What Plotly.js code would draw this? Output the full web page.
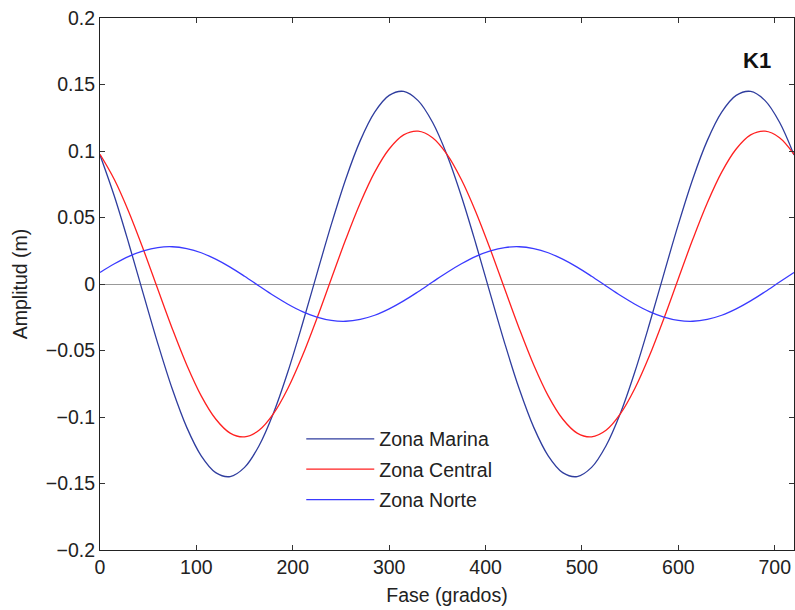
<!DOCTYPE html>
<html>
<head>
<meta charset="utf-8">
<script src="https://cdn.plot.ly/plotly-3.0.1.min.js"></script>
<style>html,body{margin:0;padding:0;background:#fff;}#chart{width:795px;height:610px;}</style>
</head>
<body>
<div id="chart"></div>
<script>
// Phase (degrees), sampled every 15 degrees
const fase = [0,15,30,45,60,75,90,105,120,135,150,165,180,195,210,225,240,255,270,285,300,315,330,345,
              360,375,390,405,420,435,450,465,480,495,510,525,540,555,570,585,600,615,630,645,660,675,690,705,720];
// Amplitude (m)
const zonaMarina = [0.0970,0.0658,0.0301,-0.0076,-0.0448,-0.0790,-0.1078,-0.1292,-0.1418,-0.1448,-0.1379,-0.1216,
                    -0.0970,-0.0658,-0.0301,0.0076,0.0448,0.0790,0.1078,0.1292,0.1418,0.1448,0.1379,0.1216,
                    0.0970,0.0658,0.0301,-0.0076,-0.0448,-0.0790,-0.1078,-0.1292,-0.1418,-0.1448,-0.1379,-0.1216,
                    -0.0970,-0.0658,-0.0301,0.0076,0.0448,0.0790,0.1078,0.1292,0.1418,0.1448,0.1379,0.1216,0.0970];
const zonaCentral = [0.0975,0.0784,0.0540,0.0259,-0.0040,-0.0336,-0.0609,-0.0841,-0.1015,-0.1121,-0.1149,-0.1100,
                     -0.0975,-0.0784,-0.0540,-0.0259,0.0040,0.0336,0.0609,0.0841,0.1015,0.1121,0.1149,0.1100,
                     0.0975,0.0784,0.0540,0.0259,-0.0040,-0.0336,-0.0609,-0.0841,-0.1015,-0.1121,-0.1149,-0.1100,
                     -0.0975,-0.0784,-0.0540,-0.0259,0.0040,0.0336,0.0609,0.0841,0.1015,0.1121,0.1149,0.1100,0.0975];
const zonaNorte = [0.0087,0.0152,0.0208,0.0249,0.0274,0.0280,0.0266,0.0235,0.0187,0.0127,0.0058,-0.0015,
                   -0.0087,-0.0152,-0.0208,-0.0249,-0.0274,-0.0280,-0.0266,-0.0235,-0.0187,-0.0127,-0.0058,0.0015,
                   0.0087,0.0152,0.0208,0.0249,0.0274,0.0280,0.0266,0.0235,0.0187,0.0127,0.0058,-0.0015,
                   -0.0087,-0.0152,-0.0208,-0.0249,-0.0274,-0.0280,-0.0266,-0.0235,-0.0187,-0.0127,-0.0058,0.0015,0.0087];
const seriesNames = ["Zona Marina","Zona Central","Zona Norte"];
const xTickVals = [0,100,200,300,400,500,600,700];
const yTickVals = [-0.2,-0.15,-0.1,-0.05,0,0.05,0.1,0.15,0.2];
const yTickText = ["\u22120.2","\u22120.15","\u22120.1","\u22120.05","0","0.05","0.1","0.15","0.2"];

const colors = ["#2f3d9e","#ff2020","#3a3aff"];
const ys = [zonaMarina, zonaCentral, zonaNorte];
const traces = ys.map((y,i)=>({
  x: fase, y: y, type: "scatter", mode: "lines", name: seriesNames[i],
  legendgroup: "g"+i,
  line: {color: colors[i], width: 1.3, shape: "spline", smoothing: 1}
}));

const FS = 19.5;
const fam = "Liberation Sans, Arial, sans-serif";
const txt = {family: fam, size: FS, color: "#222"};
const layout = {
  width: 795, height: 610,
  margin: {l: 100, r: 1, t: 18, b: 60},
  paper_bgcolor: "#fff", plot_bgcolor: "#fff",
  font: txt,
  showlegend: true,
  legend: {x: 0.29, y: 0.245, xanchor: "left", yanchor: "top", bgcolor: "rgba(0,0,0,0)",
           font: txt, tracegroupgap: 2, itemwidth: 68},
  xaxis: {
    range: [0, 720], tickvals: xTickVals, ticks: "inside", ticklen: 5, tickcolor: "#333",
    showline: true, linecolor: "#222", linewidth: 1, mirror: "ticks", showgrid: false, zeroline: false,
    title: {text: "Fase (grados)", font: txt, standoff: 10},
    tickfont: txt
  },
  yaxis: {
    range: [-0.2, 0.2], tickvals: yTickVals, ticktext: yTickText, ticks: "inside", ticklen: 5, tickcolor: "#333",
    showline: true, linecolor: "#222", linewidth: 1, mirror: "ticks", showgrid: false,
    zeroline: true, zerolinecolor: "#999", zerolinewidth: 1,
    title: {text: "Amplitud (m)", font: txt, standoff: 12},
    tickfont: txt
  },
  annotations: [{
    text: "<b>K1</b>", xref: "paper", yref: "paper", x: 0.946, y: 0.921,
    xanchor: "center", yanchor: "middle", showarrow: false,
    font: {family: fam, size: 22, color: "#111"}
  }]
};
Plotly.newPlot("chart", traces, layout, {displayModeBar: false, staticPlot: true});
</script>
</body>
</html>
